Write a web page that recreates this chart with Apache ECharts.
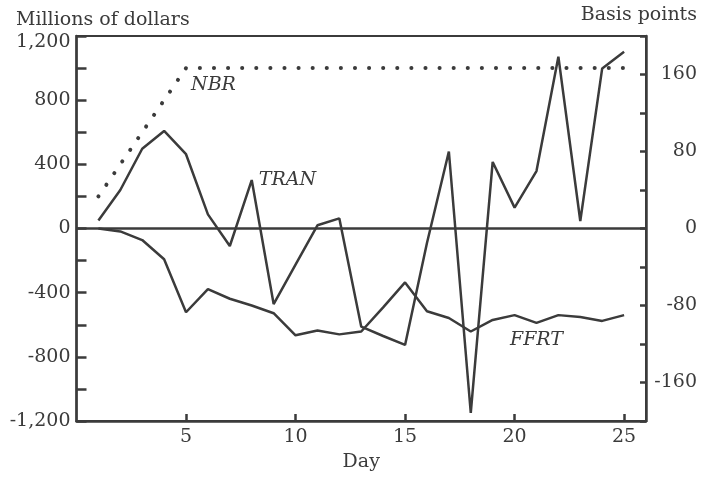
<!DOCTYPE html>
<html>
<head>
<meta charset="utf-8">
<script src="https://cdn.jsdelivr.net/npm/echarts@6/dist/echarts.min.js"></script>
<style>
  html, body { margin: 0; padding: 0; background: #fff; }
  #chart { width: 701px; height: 477px; }
</style>
</head>
<body>
<div id="chart"></div>
<script>
// Days of the reserve maintenance period
const days = [1,2,3,4,5,6,7,8,9,10,11,12,13,14,15,16,17,18,19,20,21,22,23,24,25];

// Millions of dollars (left axis)
const nbr  = [200,400,600,800,1000,1000,1000,1000,1000,1000,1000,1000,1000,1000,1000,1000,1000,1000,1000,1000,1000,1000,1000,1000,1000];
const tran = [50,240,497,608,463,88,-109,302,-471,-225,20,63,-612,-670,-726,-90,480,-1150,415,130,358,1071,47,998,1102];

// Basis points (right axis)
const ffrt = [0,-3,-12,-32,-87,-63,-73,-80,-88,-111,-106,-110,-107,-82,-56,-86,-93,-107,-95,-90,-98,-90,-92,-96,-90];

// Axis tick labels
const leftLabels  = [-1200,-800,-400,0,400,800,1200];
const rightLabels = [-160,-80,0,80,160];
const dayLabels   = [5,10,15,20,25];

const INK = '#3b3b3b';
const FONT = 'DejaVu Serif';
const FS = 19;

function pairs(vals, labelIdx, label) {
  return days.map((d, i) => {
    if (i === labelIdx) return { value: [d, vals[i]], label: label };
    return [d, vals[i]];
  });
}

function fmtThousands(v) {
  const s = Math.abs(v).toString().replace(/\B(?=(\d{3})+(?!\d))/g, ',');
  return (v < 0 ? '-' : '') + s;
}

const seriesLabel = (text, position, distance, offset) => ({
  show: true, formatter: text, position: position, distance: distance, offset: offset,
  fontFamily: FONT, fontStyle: 'italic', fontSize: FS, color: INK
});

const chart = echarts.init(document.getElementById('chart'), null, { renderer: 'canvas' });

chart.setOption({
  animation: false,
  backgroundColor: '#fff',
  grid: {
    left: 76.5, top: 36, right: 55, bottom: 56,
    show: true, borderColor: INK, borderWidth: 2, backgroundColor: 'transparent'
  },
  xAxis: {
    type: 'value', min: 0, max: 26, interval: 5,
    axisLine: { show: true, onZero: false, lineStyle: { color: INK, width: 2.5 } },
    axisTick: { show: true, inside: true, length: 7, lineStyle: { color: INK, width: 2.5 } },
    splitLine: { show: false },
    axisLabel: {
      margin: 7, color: INK, fontFamily: FONT, fontSize: FS,
      showMinLabel: false, showMaxLabel: false,
      formatter: v => dayLabels.includes(v) ? String(v) : ''
    },
    name: 'Day', nameLocation: 'middle', nameGap: 32,
    nameTextStyle: { color: INK, fontFamily: FONT, fontSize: FS }
  },
  yAxis: [
    {
      type: 'value', min: -1200, max: 1200, interval: 200,
      axisLine: { show: true, onZero: false, lineStyle: { color: INK, width: 2.5 } },
      axisTick: { show: true, inside: true, length: 10, lineStyle: { color: INK, width: 2.5 } },
      splitLine: { show: false },
      axisLabel: {
        margin: 6, color: INK, fontFamily: FONT, fontSize: FS,
        // the topmost label sits a little below the frame corner
        formatter: v => !leftLabels.includes(v) ? '' :
          (v === 1200 ? '{top|' + fmtThousands(v) + '}' : fmtThousands(v)),
        rich: { top: { fontFamily: FONT, fontSize: FS, color: INK, padding: [12, 0, 0, 0] } }
      }
    },
    {
      type: 'value', min: -200, max: 200, interval: 40, position: 'right',
      axisLine: { show: true, onZero: false, lineStyle: { color: INK, width: 2.5 } },
      axisTick: { show: true, inside: true, length: 6, lineStyle: { color: INK, width: 2.5 } },
      splitLine: { show: false },
      axisLabel: {
        margin: 51, align: 'right', color: INK, fontFamily: FONT, fontSize: FS,
        formatter: v => rightLabels.includes(v) ? String(v) : ''
      }
    }
  ],
  graphic: [
    { type: 'text', left: 16, top: 11,
      style: { text: 'Millions of dollars', fill: INK, font: FS + 'px "' + FONT + '"' } },
    { type: 'text', right: 4, top: 6,
      style: { text: 'Basis points', fill: INK, font: FS + 'px "' + FONT + '"' } }
  ],
  series: [
    {
      name: 'NBR', type: 'line', yAxisIndex: 0,
      symbol: 'circle', symbolSize: 0, showSymbol: true,
      data: pairs(nbr, 4, seriesLabel('NBR', 'right', 5, [0, 17])),
      lineStyle: { color: INK, width: 4, type: [0.1, 14], cap: 'round' },
      itemStyle: { color: INK },
      z: 3
    },
    {
      name: 'TRAN', type: 'line', yAxisIndex: 0,
      symbol: 'circle', symbolSize: 0, showSymbol: true,
      data: pairs(tran, 7, seriesLabel('TRAN', 'right', 7, [0, 0])),
      lineStyle: { color: INK, width: 2.5 },
      itemStyle: { color: INK },
      markLine: {
        silent: true, symbol: 'none', label: { show: false },
        lineStyle: { color: INK, width: 2.5, type: 'solid' },
        data: [{ yAxis: 0 }]
      },
      z: 3
    },
    {
      name: 'FFRT', type: 'line', yAxisIndex: 1,
      symbol: 'circle', symbolSize: 0, showSymbol: true,
      data: pairs(ffrt, 20, seriesLabel('FFRT', 'bottom', 8, [0, 0])),
      lineStyle: { color: INK, width: 2.5 },
      itemStyle: { color: INK },
      z: 3
    }
  ]
});
</script>
</body>
</html>
